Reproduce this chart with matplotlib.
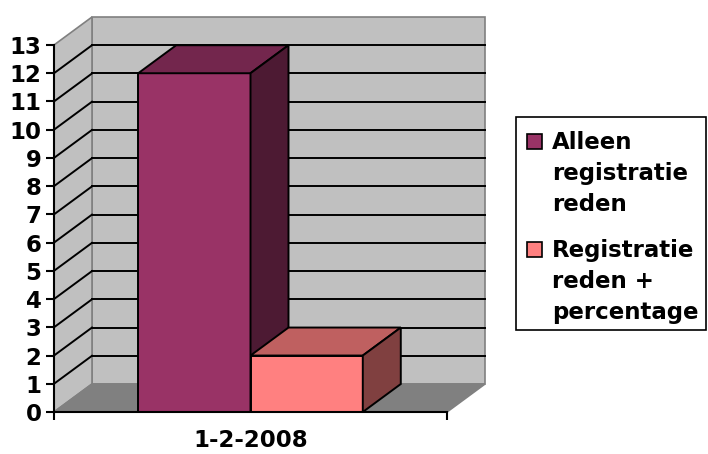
import matplotlib.pyplot as plt
from matplotlib.patches import Polygon, Rectangle
from matplotlib.lines import Line2D
from matplotlib.transforms import IdentityTransform

plt.rcParams['font.family'] = ['DejaVu Sans']
plt.rcParams['font.weight'] = 'bold'
plt.rcParams['font.size'] = 16.5

# data
category = "1-2-2008"
series = ["Alleen\nregistratie\nreden", "Registratie\nreden +\npercentage"]
values = [12, 2]
y_ticks = list(range(0, 14))

front_colors = ["#993366", "#FF8080"]
top_colors = ["#73264D", "#BF6060"]
side_colors = ["#4D1A33", "#804040"]
wall_color = "#C0C0C0"
floor_color = "#808080"
edge_gray = "#808080"

W, H = 708, 454
fig = plt.figure(figsize=(W / 100, H / 100), dpi=100)
ax = fig.add_axes([54 / W, 42 / H, 393 / W, 367 / H])
ax.set_xlim(-0.5, 0.5)
ax.set_ylim(0, y_ticks[-1])
ax.set_facecolor("none")
ax.set_autoscale_on(False)

DEPTH = (38, 28)  # pixel offset of the back plane
ID = IdentityTransform()


def proj(x, y, z):
    px, py = ax.transData.transform((x, y))
    return (px + z * DEPTH[0], py + z * DEPTH[1])


def face(pts, fc, ec="black", lw=1.4, zorder=1):
    ax.add_patch(Polygon([proj(*p) for p in pts], closed=True, facecolor=fc,
                         edgecolor=ec, lw=lw, transform=ID, clip_on=False,
                         zorder=zorder, joinstyle="miter"))


def seg(p, q, color="black", lw=1.4, zorder=1.1):
    a, b = proj(*p), proj(*q)
    ax.add_line(Line2D([a[0], b[0]], [a[1], b[1]], color=color, lw=lw,
                       transform=ID, clip_on=False, zorder=zorder))


x0, x1 = ax.get_xlim()
top = y_ticks[-1]

# walls and floor
face([(x0, 0, 1), (x1, 0, 1), (x1, top, 1), (x0, top, 1)], wall_color, edge_gray, 1.2)
face([(x0, 0, 0), (x0, 0, 1), (x0, top, 1), (x0, top, 0)], wall_color, edge_gray, 1.2)
face([(x0, 0, 0), (x1, 0, 0), (x1, 0, 1), (x0, 0, 1)], floor_color, edge_gray, 1.2)

# gridlines on side and back walls
for v in y_ticks[1:-1]:
    seg((x0, v, 0), (x0, v, 1))
    seg((x0, v, 1), (x1, v, 1))

# bars (gap width 150%)
bw = 1 / (len(values) + 1.5)
for i, v in enumerate(values):
    l = -bw * len(values) / 2 + i * bw
    r = l + bw
    face([(l, 0, 0), (r, 0, 0), (r, v, 0), (l, v, 0)], front_colors[i], zorder=2)
    face([(l, v, 0), (r, v, 0), (r, v, 1), (l, v, 1)], top_colors[i], zorder=2)
    face([(r, 0, 0), (r, 0, 1), (r, v, 1), (r, v, 0)], side_colors[i], zorder=2)

# axes
for s in ["top", "right"]:
    ax.spines[s].set_visible(False)
for s in ["left", "bottom"]:
    ax.spines[s].set_linewidth(1.5)
    ax.spines[s].set_zorder(3)
ax.set_yticks(y_ticks)
ax.tick_params(axis="y", length=6, width=1.5, pad=3, labelsize=16.5)
ax.set_xticks([0])
ax.set_xticklabels([category])
ax.set_xticks([x0, x1], minor=True)
ax.tick_params(axis="x", which="major", length=0, pad=12, labelsize=16.5)
ax.tick_params(axis="x", which="minor", length=6, width=1.5)

# legend
fig.add_artist(Rectangle((516, H - 330), 190, 213, facecolor="white",
                         edgecolor="black", lw=1.2, transform=ID))
entry_base = [149, 257]
for i, name in enumerate(series):
    b = entry_base[i]
    fig.add_artist(Rectangle((527, H - b), 15, 15, facecolor=front_colors[i],
                             edgecolor="black", lw=1.2, transform=ID))
    for j, line in enumerate(name.split("\n")):
        fig.text(552, H - (b + 31 * j), line, transform=ID, fontsize=16.5,
                 fontweight="bold", va="baseline", ha="left")

fig.savefig("out.png", dpi=100)
